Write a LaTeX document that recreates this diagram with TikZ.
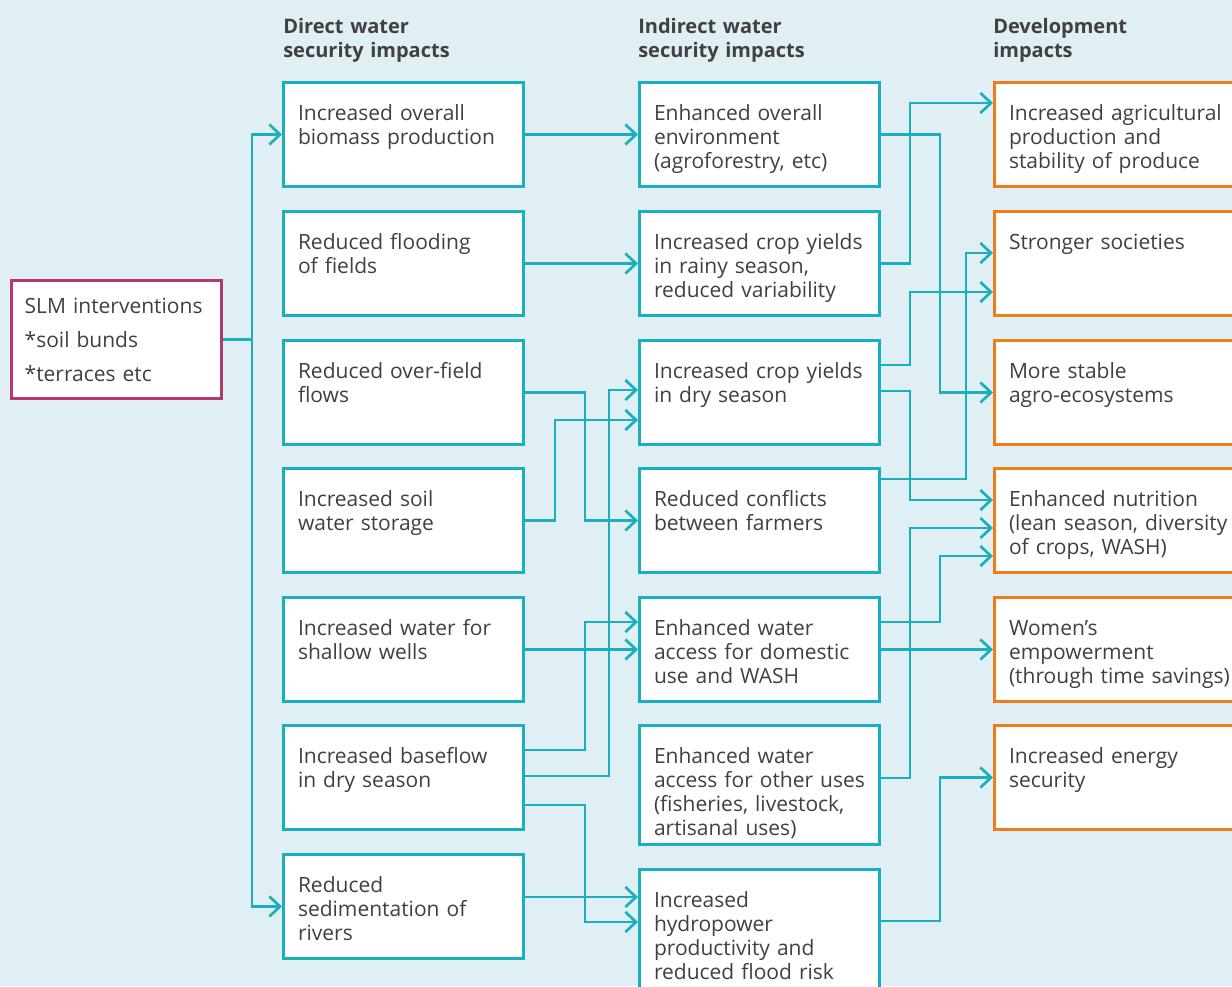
\documentclass[tikz,border=0pt]{standalone}
\usepackage{fontspec}
\setmainfont{Open Sans}
\usetikzlibrary{arrows.meta}
\definecolor{bgblue}{RGB}{224,239,243}
\definecolor{linkcol}{RGB}{26,175,190}
\definecolor{devcol}{RGB}{240,125,26}
\definecolor{slmcol}{RGB}{178,56,110}
\definecolor{txtgray}{RGB}{64,64,64}

\begin{document}
\begin{tikzpicture}[x=0.75pt,y=-0.75pt,
  every node/.style={text=txtgray,font=\fontsize{15.75}{18}\selectfont},
  head/.style={anchor=base west,inner sep=0pt,text width=200pt,align=left,font=\fontsize{15}{18}\selectfont\bfseries},
  dbox/.style={draw=linkcol,line width=2pt,fill=white,anchor=north west,align=left,inner xsep=11pt,inner ysep=0pt,text width=158.25pt,text height=28.25pt,text depth=50pt},
  devbox/.style={dbox,draw=devcol,text width=200pt},
  slmbox/.style={draw=slmcol,line width=2pt,fill=white,anchor=north west,align=left,inner xsep=10pt,text width=137.75pt,minimum height=88.75pt},
  line/.style={draw=linkcol,line width=2pt},
  link/.style={line,-{Straight Barb[length=8pt,width=15pt]}}]
\fill[bgblue] (0,0) rectangle (1232,986);
\useasboundingbox (0,0) rectangle (1232,986);

\node[head] (h1) at (283,33) {Direct water\\security impacts};
\node[head] (h2) at (638,33) {Indirect water\\security impacts};
\node[head] (h3) at (993,33) {Development\\impacts};

\node[slmbox] (slm) at (10,279) {SLM interventions\\[7.5pt]*soil bunds\\[7.5pt]*terraces etc};

\node[dbox] (c1r1) at (282,81) {Increased overall\\biomass production};
\node[dbox] (c1r2) at (282,210) {Reduced flooding\\of fields};
\node[dbox] (c1r3) at (282,339) {Reduced over-field\\flows};
\node[dbox] (c1r4) at (282,467) {Increased soil\\water storage};
\node[dbox] (c1r5) at (282,596) {Increased water for\\shallow wells};
\node[dbox] (c1r6) at (282,724) {Increased baseflow\\in dry season};
\node[dbox] (c1r7) at (282,853) {Reduced\\sedimentation of\\rivers};

\node[dbox] (c2r1) at (638,81) {Enhanced overall\\environment\\(agroforestry, etc)};
\node[dbox] (c2r2) at (638,210) {Increased crop yields\\in rainy season,\\reduced variability};
\node[dbox] (c2r3) at (638,339) {Increased crop yields\\in dry season};
\node[dbox] (c2r4) at (638,467) {Reduced conflicts\\between farmers};
\node[dbox] (c2r5) at (638,596) {Enhanced water\\access for domestic\\use and WASH};
\node[dbox,text depth=61.25pt] (c2r6) at (638,724) {Enhanced water\\access for other uses\\(fisheries, livestock,\\artisanal uses)};
\node[dbox,text depth=80pt] (c2r7) at (638,868) {Increased\\hydropower\\productivity and\\reduced flood risk};

\node[devbox] (c3r1) at (993,81) {Increased agricultural\\production and\\stability of produce};
\node[devbox] (c3r2) at (993,210) {Stronger societies};
\node[devbox] (c3r3) at (993,339) {More stable\\agro-ecosystems};
\node[devbox] (c3r4) at (993,467) {Enhanced nutrition\\(lean season, diversity\\of crops, WASH)};
\node[devbox] (c3r5) at (993,596) {Women’s\\empowerment\\(through time savings)};
\node[devbox] (c3r6) at (993,724) {Increased energy\\security};

% vertical runs between the columns
\coordinate (busS) at (252,0);
\coordinate (busA) at (555,0);
\coordinate (busB) at (585,0);
\coordinate (busC) at (609,0);
\coordinate (busD) at (910,0);
\coordinate (busE) at (940,0);
\coordinate (busF) at (966,0);

\draw[line] (slm.east) -- (busS |- slm.east);
\draw[link] (busS |- slm.east) |- (c1r1.west);
\draw[link] (busS |- slm.east) |- (c1r7.west);

\draw[link] (c1r1.east) -- (c2r1.west);
\draw[link] (c1r2.east) -- (c2r2.west);
\draw[link] (c1r3.east) -| (busB |- c2r4.west) -- (c2r4.west);
\draw[link] (c1r4.east) -| (busA |- 0,420) -- (c2r3.west |- 0,420);
\draw[link] (c1r5.east) -- (c2r5.west);
\draw[link] (c1r6.east |- 0,750) -| (busB |- 0,622) -- (c2r5.west |- 0,622);
\draw[link] (c1r6.east |- 0,776) -| (busC |- 0,390) -- (c2r3.west |- 0,390);
\draw[link] (c1r6.east |- 0,805) -| (busB |- 0,922) -- (c2r7.west |- 0,922);
\draw[link] (c1r7.east |- 0,897) -- (c2r7.west |- 0,897);

\draw[link] (c2r1.east) -| (busE |- c3r3.west) -- (c3r3.west);
\draw[link] (c2r2.east) -| (busD |- 0,103) -- (c3r1.west |- 0,103);
\draw[link] (c2r3.east |- 0,365) -| (busD |- 0,292) -- (c3r2.west |- 0,292);
\draw[link] (c2r3.east |- 0,391) -| (busD |- 0,500) -- (c3r4.west |- 0,500);
\draw[link] (c2r4.east |- 0,479) -| (busF |- 0,253) -- (c3r2.west |- 0,253);
\draw[link] (c2r5.east |- 0,622) -| (busE |- 0,556) -- (c3r4.west |- 0,556);
\draw[link] (c2r5.east) -- (c3r5.west);
\draw[link] (c2r6.east |- 0,778) -| (busD |- 0,528) -- (c3r4.west |- 0,528);
\draw[link] (c2r7.east |- 0,921) -| (busE |- c3r6.west) -- (c3r6.west);
\end{tikzpicture}
\end{document}
